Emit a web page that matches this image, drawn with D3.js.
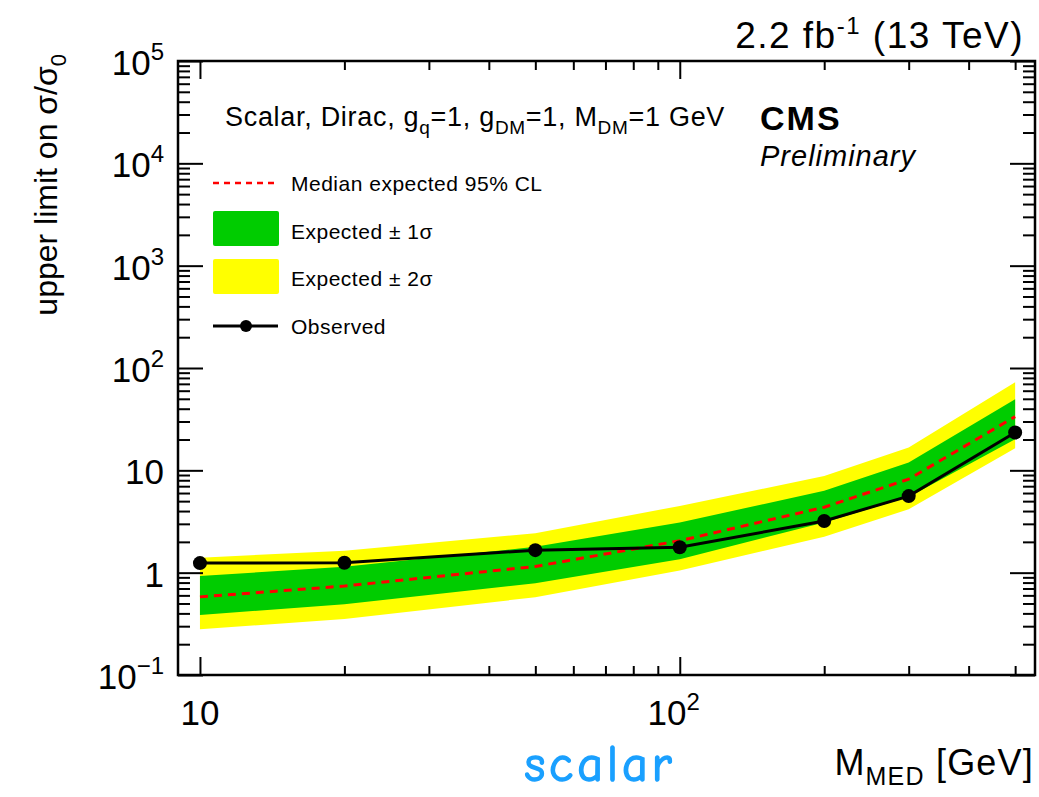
<!DOCTYPE html>
<html>
  <head>
    <meta charset="utf-8">
    <title>Scalar mediator limits</title>
    <script src="https://d3js.org/d3.v7.min.js"></script>
    <style>
      body { margin: 0; background: #fff; }
      svg text { font-family: "Liberation Sans", Arial, Helvetica, sans-serif; fill: #000; }
    </style>
  </head>
  <body>
    <svg id="chart" width="1039" height="797"></svg>
    <script>
      // mediator masses (GeV)
      var masses = [10, 20, 50, 100, 200, 300, 500];
      // observed limit
      var observed = [1.24, 1.25, 1.66, 1.77, 3.2, 5.6, 23.4];
      // median expected
      var expected = [0.58, 0.74, 1.15, 2.05, 4.36, 8.2, 33.5];
      // +-1 sigma band
      var up1 = [0.93, 1.14, 1.79, 3.1, 6.3, 11.9, 49.6];
      var down1 = [0.386, 0.49, 0.79, 1.35, 3.1, 5.5, 20.1];
      // +-2 sigma band
      var up2 = [1.4, 1.64, 2.43, 4.49, 8.8, 16.7, 72.6];
      var down2 = [0.28, 0.353, 0.575, 1.05, 2.25, 4.17, 16.4];
      // tick labels
      var yTickLabels = [["10", "\u22121"], ["1", ""], ["10", ""], ["10", "2"], ["10", "3"], ["10", "4"], ["10", "5"]];
      var xTickLabels = [["10", ""], ["10", "2"]];

      var svg = d3.select("#chart");
      var margin = { left: 178, right: 1035, top: 61, bottom: 675 };

      var x = d3.scaleLog().domain([9, 550]).range([margin.left, margin.right]);
      var y = d3.scaleLog().domain([0.1, 1e5]).range([margin.bottom, margin.top]);

      var table = masses.map(function(m, i) {
        return { m: m, obs: observed[i], exp: expected[i], u1: up1[i], d1: down1[i], u2: up2[i], d2: down2[i] };
      });

      var band = function(lo, hi) {
        return d3.area()
          .x(function(d) { return x(d.m); })
          .y0(function(d) { return y(d[lo]); })
          .y1(function(d) { return y(d[hi]); });
      };

      var plot = svg.append("g");
      plot.append("path").datum(table).attr("d", band("d2", "u2")).attr("fill", "#ffff00");
      plot.append("path").datum(table).attr("d", band("d1", "u1")).attr("fill", "#00cc00");
      plot.append("path").datum(table)
        .attr("d", d3.line().x(function(d) { return x(d.m); }).y(function(d) { return y(d.exp); }))
        .attr("fill", "none").attr("stroke", "#ff0000").attr("stroke-width", 3)
        .attr("stroke-dasharray", "8,6");
      plot.append("path").datum(table)
        .attr("d", d3.line().x(function(d) { return x(d.m); }).y(function(d) { return y(d.obs); }))
        .attr("fill", "none").attr("stroke", "#000").attr("stroke-width", 3);
      plot.selectAll(".dot").data(table).enter().append("circle")
        .attr("cx", function(d) { return x(d.m); })
        .attr("cy", function(d) { return y(d.obs); })
        .attr("r", 7).attr("fill", "#000");

      // axes, ROOT style: ticks inside on all four sides
      var xMajor = [10, 100];
      var xMinor = [20, 30, 40, 50, 60, 70, 80, 90, 200, 300, 400, 500];
      var yMajor = [0.1, 1, 10, 100, 1000, 1e4, 1e5];
      var yMinor = [];
      yMajor.slice(0, -1).forEach(function(v) {
        for (var k = 2; k <= 9; k++) yMinor.push(v * k);
      });

      var axisBottom = d3.axisBottom(x).tickValues(xMajor).tickSize(-18).tickFormat("");
      var axisBottomMinor = d3.axisBottom(x).tickValues(xMinor).tickSize(-9).tickFormat("");
      var axisTop = d3.axisTop(x).tickValues(xMajor).tickSize(-18).tickFormat("");
      var axisTopMinor = d3.axisTop(x).tickValues(xMinor).tickSize(-9).tickFormat("");
      var axisLeft = d3.axisLeft(y).tickValues(yMajor).tickSize(-25).tickFormat("");
      var axisLeftMinor = d3.axisLeft(y).tickValues(yMinor).tickSize(-12).tickFormat("");
      var axisRight = d3.axisRight(y).tickValues(yMajor).tickSize(-25).tickFormat("");
      var axisRightMinor = d3.axisRight(y).tickValues(yMinor).tickSize(-12).tickFormat("");

      var axes = svg.append("g").attr("class", "axes");
      [[axisBottom, 0, margin.bottom], [axisBottomMinor, 0, margin.bottom],
       [axisTop, 0, margin.top], [axisTopMinor, 0, margin.top],
       [axisLeft, margin.left, 0], [axisLeftMinor, margin.left, 0],
       [axisRight, margin.right, 0], [axisRightMinor, margin.right, 0]].forEach(function(a) {
        var g = axes.append("g").attr("transform", "translate(" + a[1] + "," + a[2] + ")").call(a[0]);
        g.select(".domain").remove();
        g.selectAll("line").attr("stroke", "#000").attr("stroke-width", 2);
      });
      axes.append("rect")
        .attr("x", margin.left).attr("y", margin.top)
        .attr("width", margin.right - margin.left).attr("height", margin.bottom - margin.top)
        .attr("fill", "none").attr("stroke", "#000").attr("stroke-width", 2.5);

      // tick labels
      var yl = svg.append("g");
      yMajor.forEach(function(v, i) {
        var t = yl.append("text").attr("x", 164).attr("y", y(v) + 14)
          .attr("text-anchor", "end").attr("font-size", 35);
        var lab = yTickLabels[i];
        t.append("tspan").text(lab[0]);
        if (lab[1]) t.append("tspan").attr("dy", -15).attr("font-size", 24).text(lab[1]);
      });
      xMajor.forEach(function(v, i) {
        var lab = xTickLabels[i];
        var t = svg.append("text").attr("x", x(v) - (lab[1] ? 6 : 0)).attr("y", 725)
          .attr("text-anchor", "middle").attr("font-size", 35);
        t.append("tspan").text(lab[0]);
        if (lab[1]) t.append("tspan").attr("dy", -15).attr("font-size", 24).text(lab[1]);
      });

      // axis titles
      var xt = svg.append("text").attr("x", 1034).attr("y", 775).attr("text-anchor", "end")
        .attr("font-size", 36).attr("letter-spacing", 1.2);
      xt.append("tspan").text("M");
      xt.append("tspan").attr("dy", 10).attr("font-size", 25).text("MED");
      xt.append("tspan").attr("dy", -10).text(" [GeV]");

      var ytl = svg.append("text").attr("transform", "translate(57,54) rotate(-90)")
        .attr("text-anchor", "end").attr("font-size", 32);
      ytl.append("tspan").text("upper limit on \u03c3/\u03c3");
      ytl.append("tspan").attr("dy", 9).attr("font-size", 22).text("0");

      // lumi label
      var lumi = svg.append("text").attr("x", 1024).attr("y", 48).attr("text-anchor", "end")
        .attr("font-size", 37).attr("letter-spacing", 1.5);
      lumi.append("tspan").text("2.2 fb");
      lumi.append("tspan").attr("dy", -14).attr("font-size", 24).text("-1");
      lumi.append("tspan").attr("dy", 14).text(" (13 TeV)");

      // CMS label
      svg.append("text").attr("x", 760).attr("y", 130).attr("font-size", 34).attr("letter-spacing", 2)
        .attr("font-weight", "bold").text("CMS");
      svg.append("text").attr("x", 760).attr("y", 166).attr("font-size", 29).attr("letter-spacing", 1)
        .attr("font-style", "italic").text("Preliminary");

      // model header
      var hdr = svg.append("text").attr("x", 225).attr("y", 126).attr("font-size", 27).attr("letter-spacing", 0.7);
      hdr.append("tspan").text("Scalar, Dirac, g");
      hdr.append("tspan").attr("dy", 8).attr("font-size", 19).text("q");
      hdr.append("tspan").attr("dy", -8).text("=1, g");
      hdr.append("tspan").attr("dy", 8).attr("font-size", 19).text("DM");
      hdr.append("tspan").attr("dy", -8).text("=1, M");
      hdr.append("tspan").attr("dy", 8).attr("font-size", 19).text("DM");
      hdr.append("tspan").attr("dy", -8).text("=1 GeV");

      // legend
      var leg = svg.append("g");
      leg.append("line").attr("x1", 213).attr("x2", 278).attr("y1", 183).attr("y2", 183)
        .attr("stroke", "#ff0000").attr("stroke-width", 2.5).attr("stroke-dasharray", "6,5");
      leg.append("text").attr("x", 291).attr("y", 191).attr("font-size", 21).attr("letter-spacing", 0.5)
        .text("Median expected 95% CL");
      leg.append("rect").attr("x", 213).attr("y", 211).attr("width", 66).attr("height", 35).attr("rx", 2).attr("fill", "#00cc00");
      leg.append("text").attr("x", 291).attr("y", 239).attr("font-size", 21).attr("letter-spacing", 0.5)
        .text("Expected \u00b1 1\u03c3");
      leg.append("rect").attr("x", 213).attr("y", 259).attr("width", 66).attr("height", 35).attr("rx", 2).attr("fill", "#ffff00");
      leg.append("text").attr("x", 291).attr("y", 286).attr("font-size", 21).attr("letter-spacing", 0.5)
        .text("Expected \u00b1 2\u03c3");
      leg.append("line").attr("x1", 213).attr("x2", 278).attr("y1", 326).attr("y2", 326)
        .attr("stroke", "#000").attr("stroke-width", 3);
      leg.append("circle").attr("cx", 246).attr("cy", 326).attr("r", 6).attr("fill", "#000");
      leg.append("text").attr("x", 291).attr("y", 334).attr("font-size", 21).attr("letter-spacing", 0.5)
        .text("Observed");

      // annotation
      svg.append("text").attr("x", 600).attr("y", 781).attr("text-anchor", "middle")
        .attr("font-size", 50).attr("letter-spacing", 4)
        .style("font-family", "'Comic Sans MS', 'Comic Neue', 'DejaVu Sans', sans-serif")
        .style("fill", "#1aa0ff").style("stroke", "#1aa0ff").style("stroke-width", 1.5)
        .text("scalar");
    </script>
  </body>
</html>
